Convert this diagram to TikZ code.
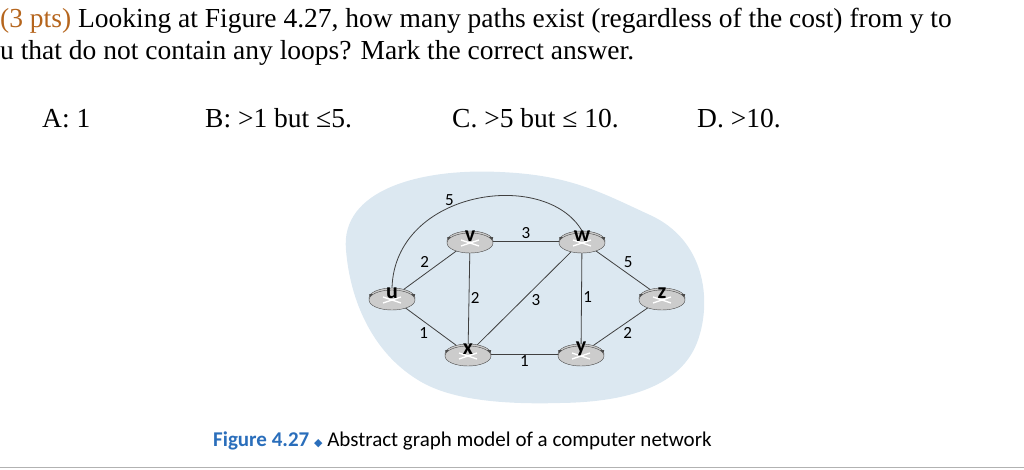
\documentclass[tikz,border=0pt]{standalone}
\usepackage{fontspec}
\setmainfont{Liberation Serif}
\newfontfamily\capfont{Carlito}
\newfontfamily\symfont{DejaVu Sans}
\usetikzlibrary{shapes.geometric}
\definecolor{blob}{HTML}{DCE8F1}
\begin{document}
\begin{tikzpicture}[x=1pt,y=-1pt,
  router/.style={ellipse,draw=gray!60!black,fill=gray!40,minimum width=46pt,minimum height=20pt,inner sep=0pt},
  link/.style={draw=black!75,line width=0.8pt},
  w/.style={font=\capfont\fontsize{17}{17}\selectfont,inner sep=1.5pt},
  q/.style={anchor=base west,font=\fontsize{27.5}{27.5}\selectfont,inner sep=0}]
\useasboundingbox (0,0) rectangle (1024,470);
\node[q] (t1) at (0,28) {\textcolor[HTML]{B5651D}{(3 pts)} Looking at Figure 4.27, how many paths exist (regardless of the cost) from y to};
\node[q] (t2) at (0,60) {u that do not contain any loops? Mark the correct answer.};
\node[q] (a) at (42,128) {A: 1};
\node[q] (b) at (205,128) {B: >1 but ≤5.};
\node[q] (c) at (452,128) {C. >5 but ≤ 10.};
\node[q] (d) at (697,128) {D. >10.};
\fill[blob] (346,250) .. controls (340,190) and (420,168) .. (500,172)
  .. controls (570,175) and (600,192) .. (650,215) .. controls (705,240) and (712,300) .. (698,340)
  .. controls (684,380) and (640,402) .. (560,403) .. controls (490,405) and (445,397) .. (418,380)
  .. controls (372,352) and (350,300) .. (346,250) -- cycle;
\foreach \n/\p in {u/{(392,298)},v/{(470,241)},w/{(582,241)},z/{(662,298)},x/{(468,354)},y/{(581,354)}}{
  \node[router] (\n) at \p {};
}
\draw[link] (u.north) .. controls (395,190) and (545,168) .. (w.north) node[w,pos=0.4,above] {5};
\draw[link] (u) -- node[w,above left] {2} (v);
\draw[link] (u) -- node[w,below left] {1} (x);
\draw[link] (v) -- node[w,above] {3} (w);
\draw[link] (v) -- node[w,pos=0.5,right] {2} (x);
\draw[link] (x) -- node[w,pos=0.55,below right] {3} (w);
\draw[link] (w) -- node[w,pos=0.5,right] {1} (y);
\draw[link] (w) -- node[w,above right] {5} (z);
\draw[link] (x) -- node[w,below] {1} (y);
\draw[link] (y) -- node[w,below right] {2} (z);
\foreach \n in {u,v,w,z,x,y}{
  \fill[gray!60!black] ([yshift=4pt]\n.west) -- ([yshift=4pt]\n.east) arc[start angle=0,end angle=-180,x radius=23pt,y radius=10pt] -- cycle;
  \node[router] at ([yshift=-2pt]\n.center) {};
  \draw[white,line width=1.4pt] ([xshift=-9pt,yshift=-5pt]\n.center) -- ([xshift=9pt,yshift=1pt]\n.center) ([xshift=-9pt,yshift=1pt]\n.center) -- ([xshift=9pt,yshift=-5pt]\n.center);
  \node[font=\capfont\bfseries\fontsize{22}{22}\selectfont,inner sep=0] at ([yshift=5pt]\n.center) {\n};
}
\node[anchor=base west,font=\capfont\fontsize{21}{21}\selectfont,inner sep=0] (cap) at (213,446) {\textcolor[HTML]{2A6EBB}{\bfseries Figure 4.27} \textcolor[HTML]{2A6EBB}{\symfont\fontsize{11}{11}\selectfont ◆} Abstract graph model of a computer network};
\draw[gray!60,line width=1pt] (0,467) -- (1024,467);
\end{tikzpicture}
\end{document}
